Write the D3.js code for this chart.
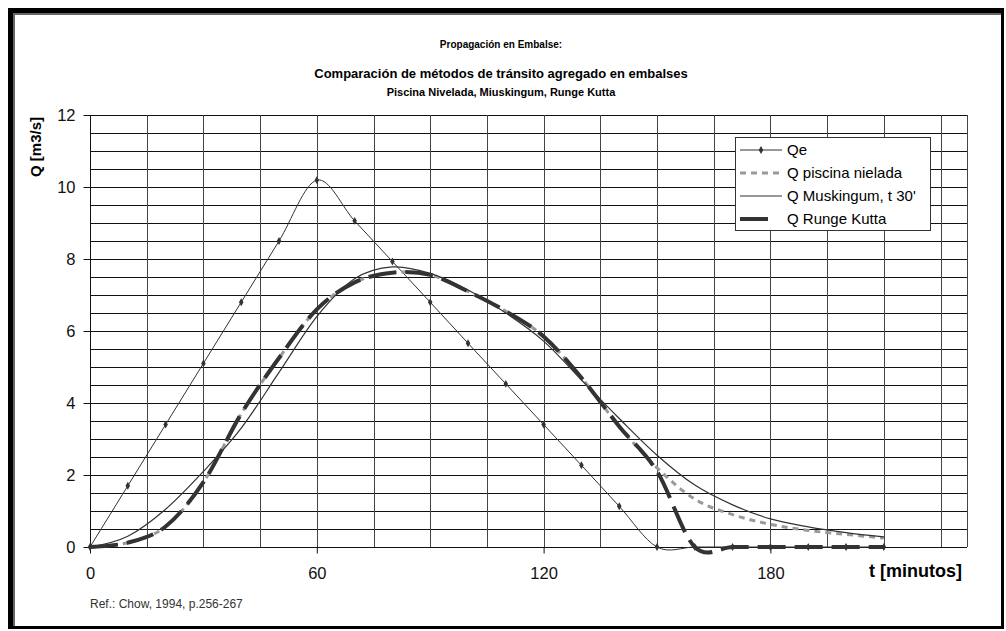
<!DOCTYPE html>
<html>
<head>
<meta charset="utf-8">
<script src="https://cdn.jsdelivr.net/npm/d3@7"></script>
<style>
  body { margin: 0; background: #fff; }
  text { font-family: Arial, "Liberation Sans", sans-serif; }
</style>
</head>
<body>
<div id="chart"></div>
<script>
// time steps [min]
const tMin = [0, 10, 20, 30, 40, 50, 60, 70, 80, 90, 100, 110, 120, 130, 140, 150, 160, 170, 180, 190, 200, 210];

// inflow and routed outflows [m3/s]
const qEntrada   = [0, 1.70, 3.40, 5.10, 6.80, 8.50, 10.19, 9.06, 7.93, 6.80, 5.66, 4.53, 3.40, 2.27, 1.13, 0, 0, 0, 0, 0, 0, 0];
const qPiscina   = [0, 0.12, 0.57, 1.80, 3.70, 5.25, 6.60, 7.35, 7.62, 7.56, 7.10, 6.55, 5.85, 4.70, 3.35, 2.20, 1.33, 0.90, 0.63, 0.46, 0.35, 0.25];
const qMuskingum = [0, 0.30, 1.05, 2.10, 3.30, 4.85, 6.40, 7.45, 7.78, 7.60, 7.14, 6.50, 5.72, 4.64, 3.57, 2.55, 1.72, 1.17, 0.78, 0.56, 0.40, 0.28];
const qRunge     = [0, 0.12, 0.57, 1.80, 3.70, 5.25, 6.60, 7.35, 7.62, 7.56, 7.10, 6.55, 5.85, 4.70, 3.35, 2.10, 0, 0, 0, 0, 0, 0];

const seriesNames = ["Qe", "Q piscina nielada", "Q Muskingum, t 30'", "Q Runge Kutta"];
const xTicks = [0, 60, 120, 180];
const yTicks = [0, 2, 4, 6, 8, 10, 12];

const width = 1006, height = 631;
const plot = {left: 90, right: 967, top: 115, bottom: 547};

const svg = d3.select("#chart")
    .append("svg")
    .attr("width", width)
    .attr("height", height);

// frame
svg.append("rect")
    .attr("x", 8).attr("y", 8)
    .attr("width", 996).attr("height", 621)
    .attr("fill", "#000");
svg.append("rect")
    .attr("x", 13).attr("y", 13)
    .attr("width", 988).attr("height", 613)
    .attr("fill", "#fff");
svg.append("path")
    .attr("d", "M14,626V14H1001")
    .attr("fill", "none")
    .attr("stroke", "#666")
    .attr("stroke-width", 2);

const x = d3.scaleLinear().domain([0, 232]).range([plot.left, plot.right]);
const y = d3.scaleLinear().domain([0, 12]).range([plot.bottom, plot.top]);

const px = v => Math.round(v) + 0.5;

// grid
const grid = svg.append("g");
grid.selectAll(".hg")
    .data(d3.range(0.5, 12.01, 0.5))
    .join("line")
    .attr("x1", plot.left).attr("x2", plot.right)
    .attr("y1", d => px(y(d))).attr("y2", d => px(y(d)))
    .attr("stroke", "#111")
    .attr("stroke-width", 1);
grid.selectAll(".vg")
    .data(d3.range(15, 232, 15))
    .join("line")
    .attr("y1", plot.top).attr("y2", plot.bottom)
    .attr("x1", d => px(x(d))).attr("x2", d => px(x(d)))
    .attr("stroke", "#444")
    .attr("stroke-width", 1);
svg.append("line")
    .attr("x1", px(plot.right)).attr("x2", px(plot.right))
    .attr("y1", plot.top).attr("y2", plot.bottom)
    .attr("stroke", "#444");

// axes
const xAxis = svg.append("g")
    .attr("transform", `translate(0,${px(plot.bottom)})`)
    .call(d3.axisBottom(x).tickValues(xTicks).tickSize(6).tickPadding(14).tickFormat(d3.format("d")));
xAxis.select(".domain").attr("d", `M${plot.left},0H${plot.right}`).attr("stroke", "#111");
xAxis.selectAll(".tick line").attr("stroke", "#111");
xAxis.selectAll("text").attr("font-size", "16.5px").attr("fill", "#111");

const yAxis = svg.append("g")
    .attr("transform", `translate(${px(plot.left)},0)`)
    .call(d3.axisLeft(y).tickValues(yTicks).tickSize(7).tickPadding(8));
yAxis.select(".domain").attr("d", `M0,${plot.top}V${plot.bottom}`).attr("stroke", "#111");
yAxis.selectAll(".tick line").attr("stroke", "#111");
yAxis.selectAll("text").attr("font-size", "16.5px").attr("fill", "#111");

// titles
svg.append("text")
    .attr("x", 501).attr("y", 48)
    .attr("text-anchor", "middle")
    .attr("font-size", "10px").attr("font-weight", "bold")
    .text("Propagación en Embalse:");
svg.append("text")
    .attr("x", 501).attr("y", 78)
    .attr("text-anchor", "middle")
    .attr("font-size", "13px").attr("font-weight", "bold")
    .text("Comparación de métodos de tránsito agregado en embalses");
svg.append("text")
    .attr("x", 501).attr("y", 96)
    .attr("text-anchor", "middle")
    .attr("font-size", "11px").attr("font-weight", "bold")
    .text("Piscina Nivelada, Miuskingum, Runge Kutta");

svg.append("text")
    .attr("transform", "translate(41,117) rotate(-90)")
    .attr("text-anchor", "end")
    .attr("font-size", "15px").attr("font-weight", "bold")
    .text("Q [m3/s]");
svg.append("text")
    .attr("x", 962).attr("y", 577)
    .attr("text-anchor", "end")
    .attr("font-size", "18px").attr("font-weight", "bold")
    .text("t [minutos]");
svg.append("text")
    .attr("x", 90).attr("y", 608)
    .attr("font-size", "12px").attr("fill", "#333")
    .text("Ref.: Chow, 1994, p.256-267");

// curves
const series = [
    {name: seriesNames[0], values: qEntrada,   stroke: "#333", width: 1,   dash: null,   markers: true},
    {name: seriesNames[1], values: qPiscina,   stroke: "#999", width: 3,   dash: "6,5",  markers: false},
    {name: seriesNames[2], values: qMuskingum, stroke: "#333", width: 1.2, dash: null,   markers: false},
    {name: seriesNames[3], values: qRunge,     stroke: "#333", width: 4,   dash: "28,9", markers: false}
];

const line = d3.line()
    .x((d, i) => x(tMin[i]))
    .y(d => y(d))
    .curve(d3.curveCardinal.tension(0));

const curves = svg.append("g")
    .attr("clip-path", null);

series.forEach(s => {
    curves.append("path")
        .datum(s.values)
        .attr("d", line)
        .attr("fill", "none")
        .attr("stroke", s.stroke)
        .attr("stroke-width", s.width)
        .attr("stroke-dasharray", s.dash);
    if (s.markers) {
        curves.selectAll(null)
            .data(s.values)
            .join("path")
            .attr("transform", (d, i) => `translate(${x(tMin[i])},${y(d)})`)
            .attr("d", d3.symbol().type(d3.symbolDiamond).size(18)())
            .attr("fill", "#333");
    }
});

// legend
const legend = svg.append("g");
legend.append("rect")
    .attr("x", 735.5).attr("y", 137.5)
    .attr("width", 195).attr("height", 93)
    .attr("fill", "#fff")
    .attr("stroke", "#333");

const legendY = d3.scalePoint().domain(seriesNames).range([150, 219]);
series.forEach(s => {
    const ly = legendY(s.name);
    const len = s.name === seriesNames[3] ? 28 : 42;
    legend.append("line")
        .attr("x1", 740).attr("x2", 740 + len)
        .attr("y1", ly).attr("y2", ly)
        .attr("stroke", s.stroke)
        .attr("stroke-width", s.width)
        .attr("stroke-dasharray", s.dash);
    if (s.markers) {
        legend.append("path")
            .attr("transform", `translate(761,${ly})`)
            .attr("d", d3.symbol().type(d3.symbolDiamond).size(18)())
            .attr("fill", "#333");
    }
    legend.append("text")
        .attr("x", 787).attr("y", ly)
        .attr("dy", "0.35em")
        .attr("font-size", "15px")
        .text(s.name);
});
</script>
</body>
</html>
